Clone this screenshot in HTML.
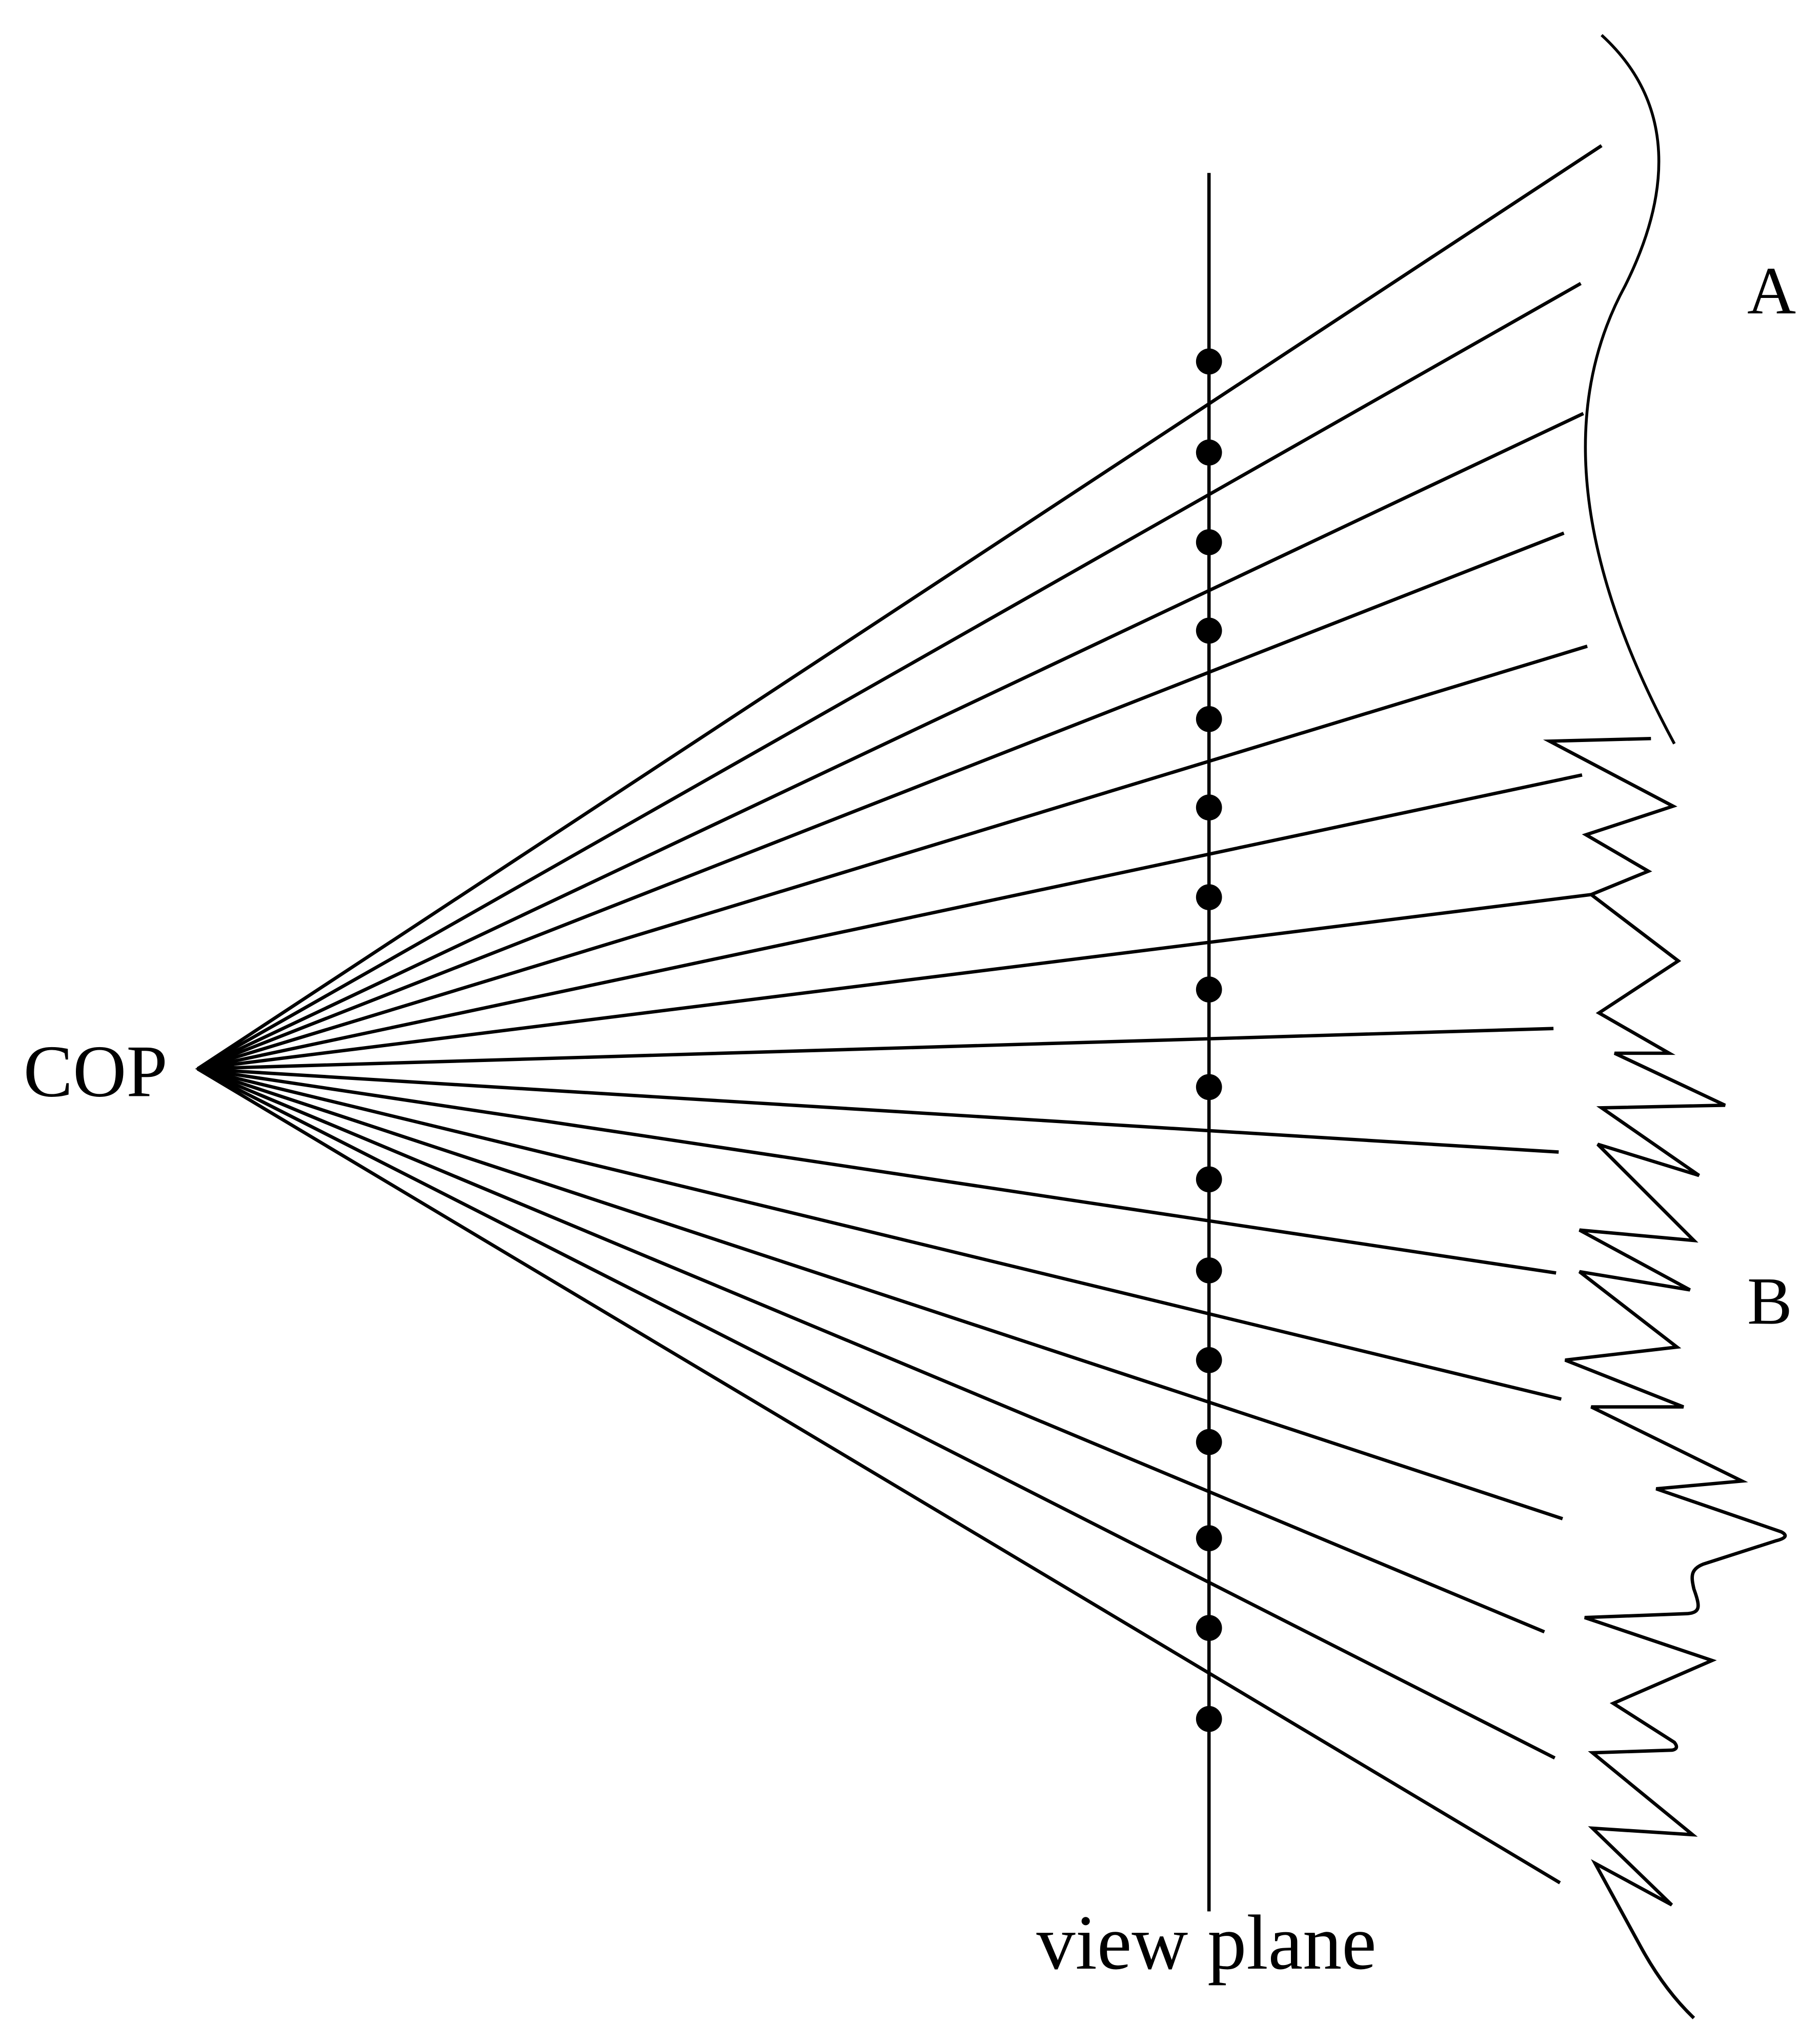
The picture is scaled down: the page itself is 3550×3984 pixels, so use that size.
<!DOCTYPE html>
<html><head><meta charset="utf-8"><style>
html,body{margin:0;padding:0;background:#fff;}
svg{display:block;}
text{font-family:"Liberation Serif",serif;fill:#000;}
</style></head><body>
<svg width="3550" height="3984" viewBox="0 0 1400 1571.2" xmlns="http://www.w3.org/2000/svg">
<g stroke="#000" stroke-width="2.6" fill="none" stroke-linecap="butt" stroke-linejoin="miter">
<line x1="152" y1="822" x2="1232" y2="112"/>
<line x1="152" y1="822" x2="1216" y2="218"/>
<line x1="152" y1="822" x2="1218" y2="318"/>
<line x1="152" y1="822" x2="1203" y2="410"/>
<line x1="152" y1="822" x2="1221" y2="497"/>
<line x1="152" y1="822" x2="1217" y2="596"/>
<line x1="152" y1="822" x2="1224" y2="688"/>
<line x1="152" y1="822" x2="1195" y2="791"/>
<line x1="152" y1="822" x2="1199" y2="886"/>
<line x1="152" y1="822" x2="1197" y2="979"/>
<line x1="152" y1="822" x2="1201" y2="1076"/>
<line x1="152" y1="822" x2="1202" y2="1168"/>
<line x1="152" y1="822" x2="1188" y2="1255"/>
<line x1="152" y1="822" x2="1196" y2="1352"/>
<line x1="152" y1="822" x2="1200" y2="1448"/>
<line x1="930" y1="133" x2="930" y2="1470"/>
<path d="M1232,27 C1290,80 1285,150 1250,220 C1212,290 1195,400 1288,572" stroke-width="2.2"/>
<path d="M1270,568 L1192,570 L1287,620 L1220,642 L1268,670 L1224,688 L1291,739 L1230,779 L1284,810 L1242,810 L1327,850 L1232,852 L1307,904 L1229,880 L1303,954 L1215,946 L1300,992 L1215,978 L1290,1036 L1204,1046 L1295,1082 L1224,1082 L1340,1139 L1274,1145 L1370,1178 Q1378,1182 1366,1185 L1310,1203 C1300,1207 1301,1213 1303,1222 C1308,1236 1308,1240 1298,1241 L1219,1244 L1317,1277 L1241,1310 L1288,1340 Q1292,1345 1286,1346 L1225,1348 L1302,1411 L1225,1406 L1286,1465 L1227,1433 L1262,1497 Q1280,1530 1303,1552"/>
</g>
<g fill="#000">
<polygon points="150,822 180,808 180,836"/>
<circle cx="930" cy="278" r="10"/>
<circle cx="930" cy="348" r="10"/>
<circle cx="930" cy="417" r="10"/>
<circle cx="930" cy="485" r="10"/>
<circle cx="930" cy="553" r="10"/>
<circle cx="930" cy="621" r="10"/>
<circle cx="930" cy="690" r="10"/>
<circle cx="930" cy="761" r="10"/>
<circle cx="930" cy="836" r="10"/>
<circle cx="930" cy="907" r="10"/>
<circle cx="930" cy="977" r="10"/>
<circle cx="930" cy="1046" r="10"/>
<circle cx="930" cy="1109" r="10"/>
<circle cx="930" cy="1183" r="10"/>
<circle cx="930" cy="1252" r="10"/>
<circle cx="930" cy="1322" r="10"/>
</g>
<text x="18" y="843" font-size="57">COP</text>
<text x="1344" y="241" font-size="52">A</text>
<text x="1344" y="1018" font-size="52">B</text>
<text x="928" y="1514" font-size="60" text-anchor="middle">view plane</text>
</svg>
</body></html>
